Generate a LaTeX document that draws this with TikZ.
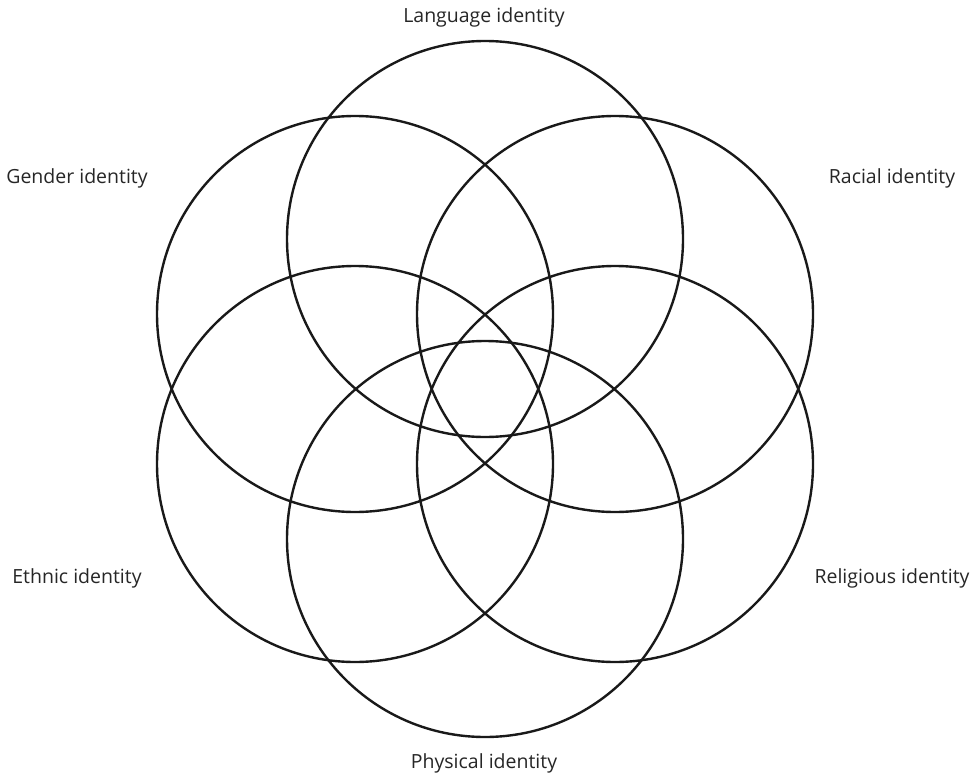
\documentclass[tikz,border=0pt]{standalone}
\usepackage{fontspec}
\setmainfont{Open Sans}
\begin{document}
\begin{tikzpicture}[x=1pt,y=-1pt,
  ring/.style={draw=black!90,line width=2.4pt},
  lab/.style={anchor=base,inner sep=0pt,text=black!85,font=\fontsize{19.5}{23}\selectfont}]
\useasboundingbox (0,0) rectangle (973,778);
\node[ring,circle,minimum size=396pt,inner sep=0pt] (lang) at (485,239) {};
\node[ring,circle,minimum size=396pt,inner sep=0pt] (race) at (615,314) {};
\node[ring,circle,minimum size=396pt,inner sep=0pt] (reli) at (615,464) {};
\node[ring,circle,minimum size=396pt,inner sep=0pt] (phys) at (485,539) {};
\node[ring,circle,minimum size=396pt,inner sep=0pt] (ethn) at (355,464) {};
\node[ring,circle,minimum size=396pt,inner sep=0pt] (gend) at (355,314) {};
\node[lab] (tlang) at (484,23) {Language identity};
\node[lab] (trace) at (892,183) {Racial identity};
\node[lab] (treli) at (892,583) {Religious identity};
\node[lab] (tphys) at (484,768) {Physical identity};
\node[lab] (tethn) at (77,583) {Ethnic identity};
\node[lab] (tgend) at (77,183) {Gender identity};
\end{tikzpicture}
\end{document}
